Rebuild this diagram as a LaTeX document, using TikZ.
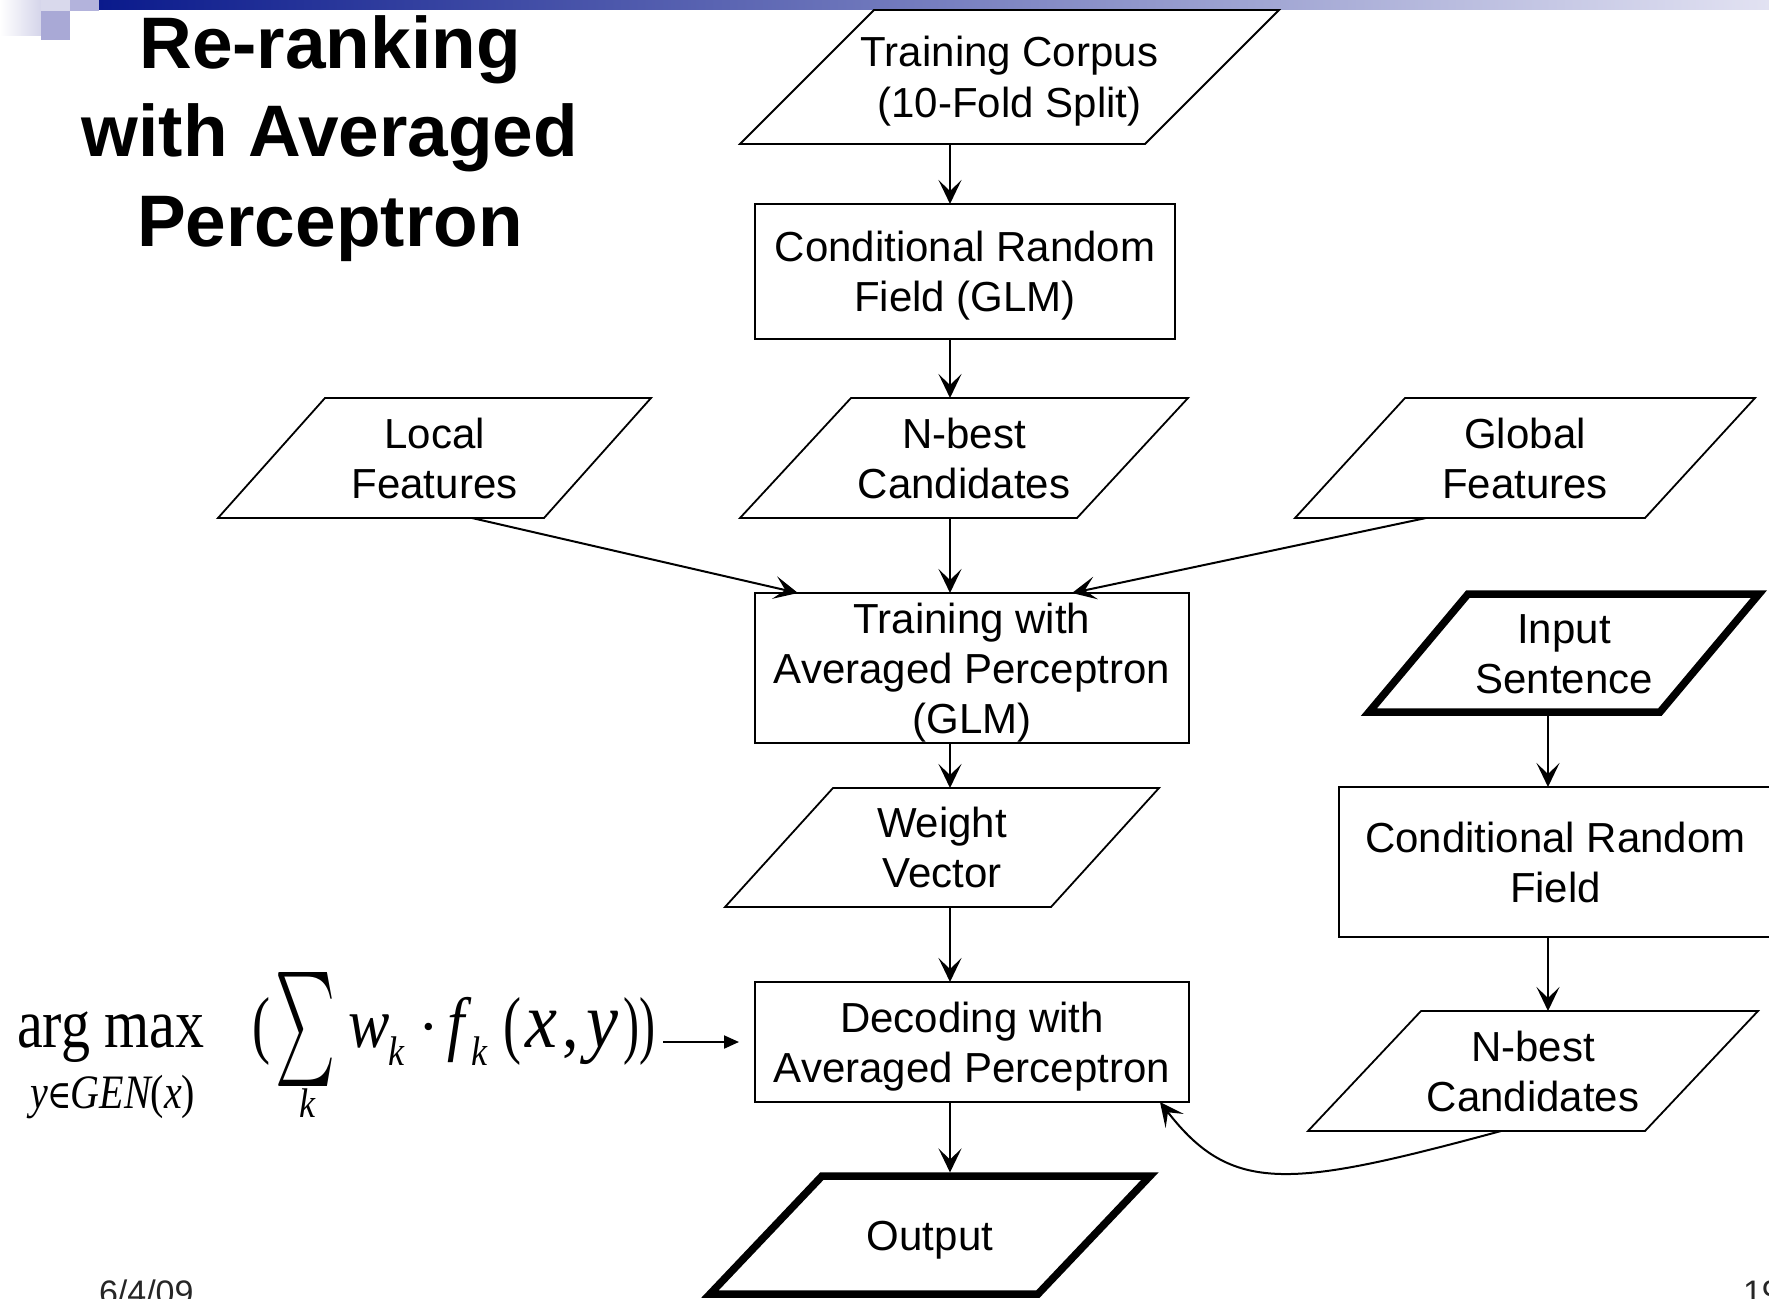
\documentclass[tikz,border=0pt]{standalone}
\usepackage{fontspec}
\setmainfont{Liberation Sans}
\newfontfamily\tms{Liberation Serif}
\newfontfamily\djs{DejaVu Serif}
\usepackage{graphicx}
\usetikzlibrary{arrows.meta,calc}
\definecolor{navy}{HTML}{0A1A8C}
\definecolor{barmid}{HTML}{8A8AC8}
\definecolor{barend}{HTML}{E2E2F2}
\definecolor{lavA}{HTML}{D5D5EA}
\definecolor{lavB}{HTML}{A9A9D6}
\definecolor{lavC}{HTML}{D9D9EC}
\definecolor{lavD}{HTML}{B3B3DC}
\newcommand\nt[1]{\raisebox{-5pt}[\height][\depth]{\begin{tabular}{@{}c@{}}#1\end{tabular}}}
\newcommand\parashape[3]{\draw[#3] (#1.south west) -- ([xshift=-#2pt]#1.south east) -- (#1.north east) -- ([xshift=#2pt]#1.north west) -- cycle;}
\tikzset{
  lbl/.style={font=\fontsize{42}{50}\selectfont, inner sep=0pt, outer sep=0pt},
  boxnode/.style={lbl, draw, line width=1.8pt},
  paranode/.style={lbl},
  thinpara/.style={line width=1.8pt, line join=miter},
  thickpara/.style={line width=7.5pt, line join=miter},
  arr/.style={line width=2pt, -{Stealth[length=24pt,width=23pt,inset=11pt]}},
  farr/.style={line width=2pt, -{Triangle[length=15pt,width=13pt]}},
  fp/.style={inner sep=0pt, outer sep=0pt},
}
\begin{document}
\begin{tikzpicture}[x=1pt,y=-1pt]
\useasboundingbox (0,0) rectangle (1769,1298);
\fill[white] (0,0) rectangle (1769,1298);
% top decoration
\shade[left color=white, right color=lavA] (0,0) rectangle (41,36);
\fill[lavB] (41,11) rectangle (70,40);
\fill[lavC] (41,0) rectangle (70,11);
\fill[lavD] (70,0) rectangle (99,11);
\shade[left color=navy, middle color=barmid, right color=barend] (99,0) rectangle (1769,10);
% title
\node[fp, anchor=base, font=\fontsize{73}{89}\selectfont\bfseries] (title) at (330,68)
  {\begin{tabular}[t]{@{}c@{}}Re-ranking\\with Averaged\\Perceptron\end{tabular}};
% coordinates of the vertical connector columns
\coordinate (col) at (950,0);
\coordinate (rcol) at (1548,0);
% main column
\node[paranode, minimum width=539pt, minimum height=134pt] (tc) at (1009.5,77) {\nt{Training Corpus\\(10-Fold Split)}};
\parashape{tc}{134}{thinpara}
\node[boxnode, minimum width=420pt, minimum height=135pt] (crf1) at (965,271.5) {\nt{Conditional Random\\Field (GLM)}};
\node[paranode, minimum width=433pt, minimum height=120pt] (lf) at (434.5,458) {\nt{Local\\Features}};
\parashape{lf}{107}{thinpara}
\node[paranode, minimum width=448pt, minimum height=120pt] (nb1) at (964,458) {\nt{N-best\\Candidates}};
\parashape{nb1}{111}{thinpara}
\node[paranode, minimum width=460pt, minimum height=120pt] (gf) at (1525,458) {\nt{Global\\Features}};
\parashape{gf}{110}{thinpara}
\node[boxnode, minimum width=434pt, minimum height=150pt] (tap) at (972,668) {\nt{Training with\\Averaged Perceptron\\(GLM)}};
\node[paranode, minimum width=434pt, minimum height=119pt] (wv) at (942,847.5) {\nt{Weight\\Vector}};
\parashape{wv}{108}{thinpara}
\node[boxnode, minimum width=434pt, minimum height=120pt] (dec) at (972,1042) {\nt{Decoding with\\Averaged Perceptron}};
\node[paranode, minimum width=440pt, minimum height=118pt] (out) at (930,1235) {\nt{Output}};
\parashape{out}{112}{thickpara}
% right column
\node[paranode, minimum width=390pt, minimum height=118pt] (is) at (1564,653) {\nt{Input\\Sentence}};
\parashape{is}{99}{thickpara}
\node[boxnode, minimum width=433pt, minimum height=150pt] (crf2) at (1555.5,862) {\nt{Conditional Random\\Field}};
\node[paranode, minimum width=450pt, minimum height=120pt] (nb2) at (1533,1071) {\nt{N-best\\Candidates}};
\parashape{nb2}{113}{thinpara}
% connectors
\draw[arr] (tc.south -| col) -- (crf1.north -| col);
\draw[arr] (crf1.south -| col) -- (nb1.north -| col);
\draw[arr] (nb1.south -| col) -- (tap.north -| col);
\draw[arr] (tap.south -| col) -- (wv.north -| col);
\draw[arr] (wv.south -| col) -- (dec.north -| col);
\draw[arr, shorten >=3.5pt] (dec.south -| col) -- (out.north -| col);
\draw[arr] ([xshift=254pt]lf.south west) -- ([xshift=43pt]tap.north west);
\draw[arr] ([xshift=131pt]gf.south west) -- ([xshift=-117pt]tap.north east);
\draw[arr] (is.south -| rcol) -- (crf2.north -| rcol);
\draw[arr] (crf2.south -| rcol) -- (nb2.north -| rcol);
\draw[arr] ([xshift=193pt]nb2.south west) .. controls (1290,1188) and (1232,1195) .. ([xshift=-29pt]dec.south east);
% formula
\node[fp, anchor=base west] (fa) at (17,1047) {\scalebox{1}[1.2]{\tms\fontsize{58}{60}\selectfont arg max}};
\node[fp, anchor=base] (fb) at (113,1108) {\scalebox{1}[1.2]{\tms\fontsize{40}{42}\selectfont\itshape y\kern-1pt{\upshape\djs\fontsize{33}{40}\selectfont ∈}\kern-1pt GEN{\upshape(}x{\upshape)}}};
\node[fp, anchor=north west] (fc) at (252,997) {\resizebox*{18pt}{68pt}{\tms (}};
\node[fp, anchor=north west] (fd) at (275,972) {\resizebox*{60pt}{114pt}{$\sum$}};
\node[fp, anchor=base] (fe) at (307,1117) {\scalebox{1}[1.15]{\tms\itshape\fontsize{36}{38}\selectfont k}};
\node[fp, anchor=base west] (ff) at (348,1047) {\scalebox{1}[1.15]{\tms\itshape\fontsize{62}{64}\selectfont w}};
\node[fp, anchor=base west] (fg) at (388,1065) {\scalebox{1}[1.15]{\tms\itshape\fontsize{36}{38}\selectfont k}};
\node[fp, anchor=base west] (fh) at (418,1047) {\tms\fontsize{62}{64}\selectfont ·};
\node[fp, anchor=base west] (fi) at (447,1047) {\scalebox{1}[1.15]{\tms\itshape\fontsize{62}{64}\selectfont f}};
\node[fp, anchor=base west] (fj) at (471,1065) {\scalebox{1}[1.15]{\tms\itshape\fontsize{36}{38}\selectfont k}};
\node[fp, anchor=north west] (fk) at (503,997) {\resizebox*{18pt}{68pt}{\tms (}};
\node[fp, anchor=base west] (fl) at (525,1047) {\scalebox{1}[1.1]{\tms\itshape\fontsize{72}{74}\selectfont x}};
\node[fp, anchor=base west] (fm) at (562,1047) {\scalebox{1}[1.1]{\tms\fontsize{66}{68}\selectfont ,}};
\node[fp, anchor=base west] (fn) at (586,1047) {\scalebox{1}[1.1]{\tms\itshape\fontsize{72}{74}\selectfont y}};
\node[fp, anchor=north west] (fo) at (623,997) {\resizebox*{16pt}{68pt}{\tms )}};
\node[fp, anchor=north west] (fz) at (639,997) {\resizebox*{16pt}{68pt}{\tms )}};
\draw[farr, shorten <=8pt, shorten >=16pt] (fz.east |- dec.west) -- (dec.west);
% footer
\node[fp, anchor=base west, font=\fontsize{34}{40}\selectfont, text=black!85] (date) at (99,1304) {6/4/09};
\node[fp, anchor=base west, font=\fontsize{34}{40}\selectfont, text=black!85] (page) at (1743,1304) {19};
\end{tikzpicture}
\end{document}
